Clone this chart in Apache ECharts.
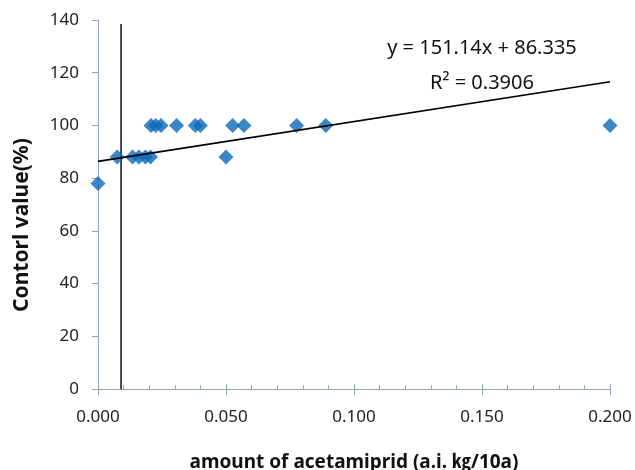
<!DOCTYPE html>
<html>
<head>
<meta charset="utf-8">
<script src="https://cdn.jsdelivr.net/npm/echarts@6/dist/echarts.min.js"></script>
<style>
html,body{margin:0;padding:0;background:#fff;}
#chart{width:635px;height:470px;}
</style>
</head>
<body>
<div id="chart"></div>
<script>
// ---- data ----
const amountX = [0, 0.0075, 0.0135, 0.016, 0.0185, 0.0205, 0.0207, 0.0225, 0.0246, 0.0307, 0.038, 0.040, 0.050, 0.0526, 0.057, 0.0776, 0.089, 0.2];
const controlY = [78, 88, 88, 88, 88, 88, 100, 100, 100, 100, 100, 100, 88, 100, 100, 100, 100, 100];
const trendSlope = 151.14;
const trendIntercept = 86.335;
const trendRange = [0, 0.2];
const refLineX = [0.009, 0.009];
const refLineY = [0, 138.5];
const xTicks = [0, 0.05, 0.1, 0.15, 0.2];
const yTicks = [0, 20, 40, 60, 80, 100, 120, 140];
const eqText = 'y = 151.14x + 86.335';
const r2Text = 'R² = 0.3906';
const yTitle = 'Contorl value(%)';
const xTitle = 'amount of acetamiprid (a.i. ㎏/10a)';

const points = amountX.map((x, i) => [x, controlY[i]]);
const trendPts = trendRange.map(x => [x, trendSlope * x + trendIntercept]);
const refPts = refLineX.map((x, i) => [x, refLineY[i]]);

const axisColor = '#8fa4ba';
const font = '"Noto Sans", "Noto Sans CJK KR", sans-serif';

const chart = echarts.init(document.getElementById('chart'));
chart.setOption({
  animation: false,
  backgroundColor: '#fff',
  grid: { left: 98, right: 25, top: 20, bottom: 81, containLabel: false, outerBoundsMode: 'none' },
  xAxis: [{
    type: 'value', min: xTicks[0], max: xTicks[xTicks.length - 1], interval: 0.05,
    position: 'bottom',
    name: xTitle,
    nameLocation: 'middle', nameGap: 64,
    nameTextStyle: { fontFamily: font, fontSize: 19, fontWeight: 'bold', color: '#111' },
    axisLine: { show: true, onZero: false, lineStyle: { color: axisColor, width: 1 } },
    axisTick: { show: true, inside: false, length: 6, lineStyle: { color: axisColor } },
    axisLabel: { fontFamily: font, fontSize: 17, color: '#222', margin: 20, formatter: v => v.toFixed(3) },
    splitLine: { show: false }
  }, {
    type: 'value', min: xTicks[0], max: xTicks[xTicks.length - 1], interval: 0.05,
    position: 'bottom', gridIndex: 0,
    axisLine: { show: false },
    axisTick: { show: true, inside: true, length: 5, lineStyle: { color: axisColor } },
    minorTick: { show: true, splitNumber: 5, length: 4, lineStyle: { color: axisColor } },
    axisLabel: { show: false },
    splitLine: { show: false }
  }],
  yAxis: {
    type: 'value', min: yTicks[0], max: yTicks[yTicks.length - 1], interval: 20,
    axisLine: { show: true, onZero: false, lineStyle: { color: axisColor, width: 1 } },
    axisTick: { show: true, inside: false, length: 6, lineStyle: { color: axisColor } },
    axisLabel: { fontFamily: font, fontSize: 17, color: '#222', margin: 19 },
    splitLine: { show: false }
  },
  graphic: [
    { type: 'text', x: 22, y: 225, rotation: Math.PI / 2, style: { text: yTitle, fontFamily: font, fontSize: 21, fontWeight: 'bold', fill: '#111', align: 'center', verticalAlign: 'middle' } },
    { type: 'text', x: 482, y: 48, style: { text: eqText, fontFamily: font, fontSize: 20, fill: '#111', align: 'center', verticalAlign: 'middle' } },
    { type: 'text', x: 482, y: 83, style: { text: r2Text, fontFamily: font, fontSize: 20, fill: '#111', align: 'center', verticalAlign: 'middle' } }
  ],
  series: [
    {
      type: 'line', data: refPts, xAxisIndex: 0, symbol: 'none',
      lineStyle: { color: '#111', width: 1.5 }, silent: true, z: 1
    },
    {
      type: 'line', data: trendPts, xAxisIndex: 0, symbol: 'none',
      lineStyle: { color: '#000', width: 1.7 }, silent: true, z: 3
    },
    {
      type: 'scatter', data: points, xAxisIndex: 0, symbol: 'diamond', symbolSize: [15, 15],
      itemStyle: { color: '#0a68b9' }, z: 2
    }
  ]
});
</script>
</body>
</html>
